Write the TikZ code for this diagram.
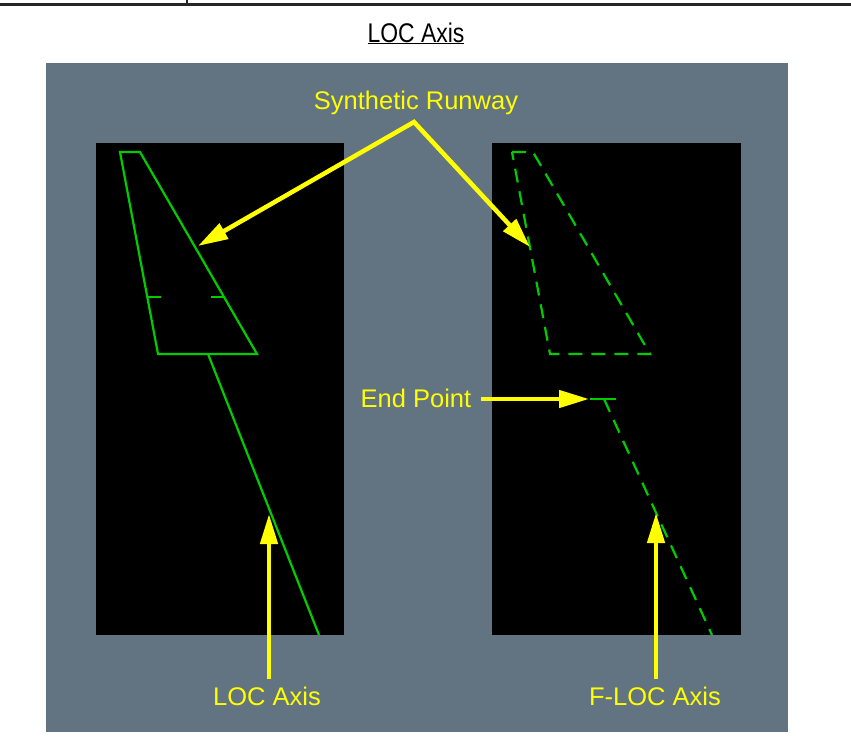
\documentclass[tikz,border=0pt]{standalone}
\usepackage{fontspec}
\setmainfont{Liberation Sans}
\usetikzlibrary{arrows.meta}
\definecolor{panelgray}{HTML}{627382}
\definecolor{rwgreen}{HTML}{00CC00}
\definecolor{ylw}{HTML}{FFFF00}
\tikzset{
  lbl/.style={text=ylw, font=\fontsize{25.5}{28}\selectfont, inner sep=0pt, anchor=base},
  yarrow/.style={draw=ylw, line width=4.5pt, -{Triangle[length=30pt,width=17pt]}},
  rw/.style={draw=rwgreen, line width=2.2pt},
  rwdash/.style={draw=rwgreen, line width=2.2pt, dash pattern=on 14pt off 9pt},
}
\begin{document}
\begin{tikzpicture}[x=1pt,y=-1pt]
\useasboundingbox (0,0) rectangle (851,750);
\fill[white] (0,0) rectangle (851,750);
% top rule
\draw[line width=3pt, black!85] (0,4) -- (851,4);
\draw[line width=1.5pt, black!85] (187,0) -- (187,4);
% title
\node[inner sep=0pt, anchor=base, xscale=0.85, font=\fontsize{27}{30}\selectfont] (title) at (416,42) {\underline{LOC Axis}};
% panels
\fill[panelgray] (46,63) rectangle (788,732);
\fill[black] (96,143) rectangle (344,635);
\fill[black] (492,143) rectangle (741,635);
% left runway
\draw[rw, line join=miter] (120,152) -- (140,152) -- (257,354) -- (158,354) -- cycle;
\draw[rw] (148,297) -- (161,297);
\draw[rw] (211,297) -- (224,297);
\draw[rw] (208,354) -- (319,635);
% right runway dashed
\draw[rwdash] (512,152) -- (533,152) -- (650,354) -- (550,354) -- cycle;
\draw[rw] (590,399) -- (616,399);
\draw[rwdash] (604,399) -- (712,635);
% labels
\node[lbl] (synth) at (416,109) {Synthetic Runway};
\node[lbl] (endpt) at (416,407) {End Point};
\node[lbl] (locax) at (267,705) {LOC Axis};
\node[lbl] (flocax) at (655,705) {F-LOC Axis};
% arrow coordinates
\coordinate (apex) at (414,122);
\coordinate (tipL) at (198,246);
\coordinate (tipR) at (530,247);
\coordinate (tipE) at (589,399);
\coordinate (tipLOC) at (269,514);
\coordinate (tipFLOC) at (656,513);
% arrows
\draw[yarrow, {Triangle[length=30pt,width=17pt]}-{Triangle[length=30pt,width=17pt]}, line join=miter] (tipL) -- (apex) -- (tipR);
\draw[yarrow] (endpt.east |- tipE) ++(10,0) coordinate (endstart) -- (tipE);
\draw[yarrow] (locax.north -| tipLOC) ++(0,-7) -- (tipLOC);
\draw[yarrow] (flocax.north -| tipFLOC) ++(0,-7) -- (tipFLOC);
\end{tikzpicture}
\end{document}
